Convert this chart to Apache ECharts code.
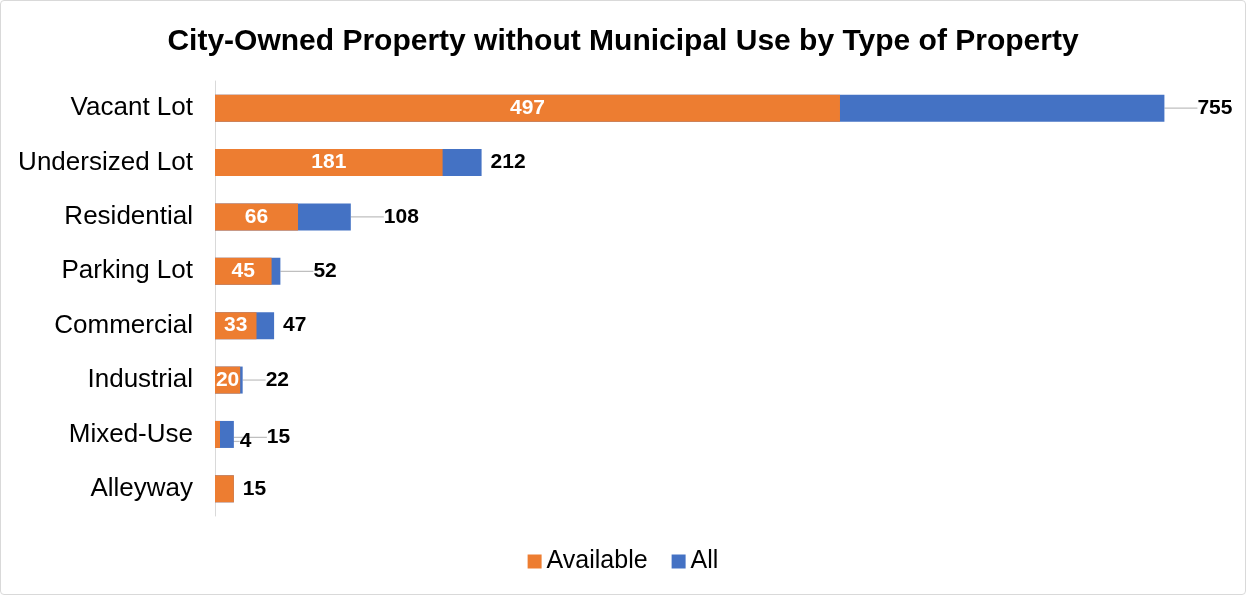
<!DOCTYPE html>
<html>
<head>
<meta charset="utf-8">
<script src="https://cdn.jsdelivr.net/npm/echarts@6/dist/echarts.min.js"></script>
<style>
  html, body { margin: 0; padding: 0; background: #fff; }
  #chart { width: 1244px; height: 593px; border: 1px solid #d9d9d9; border-radius: 4px; }
</style>
</head>
<body>
<div id="chart"></div>
<script>
const categories = ["Vacant Lot", "Undersized Lot", "Residential", "Parking Lot", "Commercial", "Industrial", "Mixed-Use", "Alleyway"];
const availableValues = [497, 181, 66, 45, 33, 20, 4, 15];
const allValues = [755, 212, 108, 52, 47, 22, 15, 15];

// label nudges (px) for the outside labels, so leader lines show where the original has them
const allLabelShift = [[24, 0], [0, 0], [24, 0], [24, 0], [0, 0], [14, 0], [24, 3], [0, 0]];
const availLabelShift = { 6: [28, 7] };

const chart = echarts.init(document.getElementById("chart"));

const font = "'Liberation Sans', Arial, sans-serif";

chart.setOption({
  animation: false,
  title: {
    text: "City-Owned Property without Municipal Use by Type of Property",
    left: "center",
    top: 21,
    textStyle: { fontFamily: font, fontSize: 30, fontWeight: "bold", color: "#000" },
  },
  legend: {
    data: ["Available", "All"],
    bottom: 15,
    left: "center",
    icon: "rect",
    itemWidth: 14,
    itemHeight: 14,
    itemGap: 24,
    textStyle: { fontFamily: font, fontSize: 25, color: "#000" },
  },
  grid: { left: 214, right: 24, top: 80, bottom: 78 },
  xAxis: {
    type: "value",
    min: 0,
    max: 800,
    show: false,
  },
  yAxis: {
    type: "category",
    inverse: true,
    data: categories,
    axisLine: { show: true, lineStyle: { color: "#d9d9d9", width: 1 } },
    axisTick: { show: false },
    axisLabel: { fontFamily: font, fontSize: 26, color: "#000", margin: 22 },
  },
  series: [
    {
      name: "All",
      type: "bar",
      data: allValues.map((v, i) =>
        allLabelShift[i][0] === 0 ? { value: v, labelLine: { show: false } } : v
      ),
      barWidth: 27,
      itemStyle: { color: "#4472C4" },
      label: {
        show: true,
        position: "right",
        distance: 9,
        fontFamily: font,
        fontSize: 21,
        fontWeight: "bold",
        color: "#000",
      },
      labelLine: { show: true, lineStyle: { color: "#bfbfbf", width: 1.2 } },
      labelLayout: (p) => {
        const s = allLabelShift[p.dataIndex];
        return { dx: s[0], dy: s[1] };
      },
    },
    {
      name: "Available",
      type: "bar",
      data: availableValues.map((v, i) =>
        // the tiny Mixed-Use bar can't hold its label, so it sits outside in black
        i === 6 ? { value: v, label: { color: "#000" } } : v
      ),
      barWidth: 27,
      barGap: "-100%",
      itemStyle: { color: "#ED7D31" },
      label: {
        show: true,
        position: "inside",
        fontFamily: font,
        fontSize: 21,
        fontWeight: "bold",
        color: "#fff",
        formatter: (p) => (p.dataIndex === 7 ? "" : p.value),
      },
      labelLine: { show: true, lineStyle: { color: "#bfbfbf", width: 1.2 } },
      labelLayout: (p) => {
        const s = availLabelShift[p.dataIndex];
        if (!s) return {};
        return { dx: s[0], dy: s[1] };
      },
    },
  ],
});

window.addEventListener("resize", () => chart.resize());
</script>
</body>
</html>
